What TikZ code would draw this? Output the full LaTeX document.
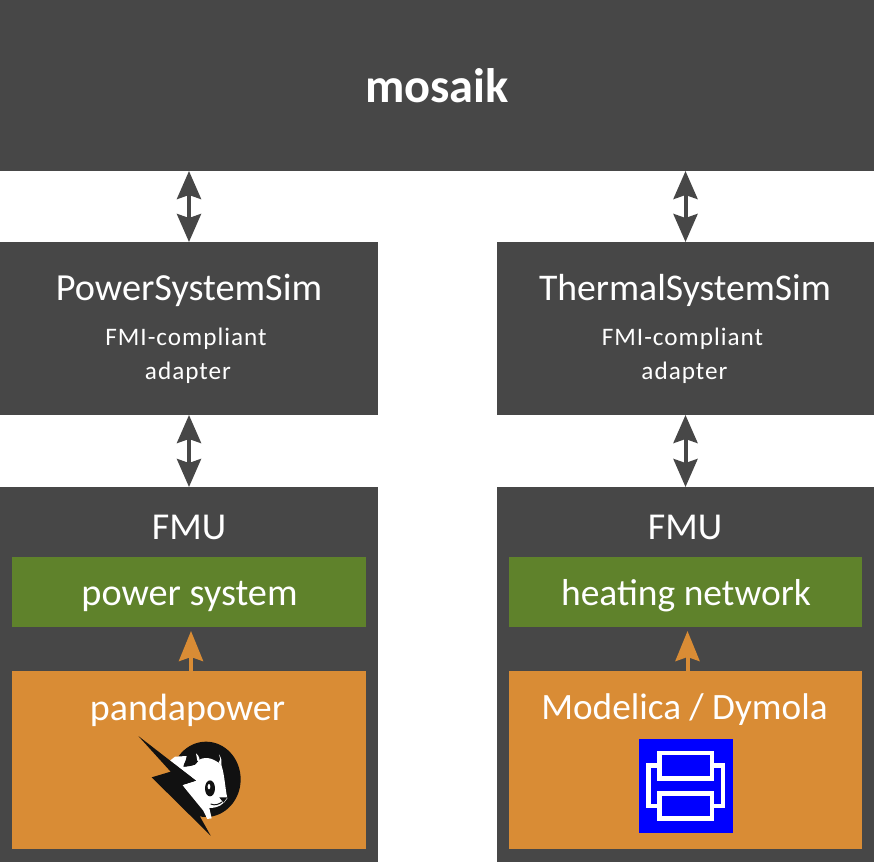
\documentclass[tikz,border=0pt]{standalone}
\usepackage{fontspec}
\setmainfont{Carlito}
\newfontfamily\spaced[LetterSpace=4]{Carlito}
\usetikzlibrary{arrows.meta}
\definecolor{dark}{HTML}{474747}
\definecolor{grn}{HTML}{5F822B}
\definecolor{org}{HTML}{D98C35}
\definecolor{pblack}{HTML}{111111}
\tikzset{
  box/.style={rectangle,inner sep=0pt,outer sep=0pt,fill=#1,text=white},
  box/.default=dark,
  big/.style={text=white,inner sep=0pt,font=\fontsize{38.3}{44}\selectfont},
  mid/.style={text=white,inner sep=0pt,font=\fontsize{38}{44}\selectfont},
  small/.style={text=white,inner sep=0pt,font=\fontsize{25.2}{30}\selectfont\spaced},
  dbl/.style={draw=dark,line width=4pt,{Stealth[length=28pt,width=24pt,inset=4pt]}-{Stealth[length=28pt,width=24pt,inset=4pt]}},
  upa/.style={draw=org,line width=4pt,-{Stealth[length=30pt,width=24pt,inset=4pt]}},
  wline/.style={draw=white,line width=4.5pt,line join=miter}
}
\begin{document}
\begin{tikzpicture}[x=1pt,y=-1pt]
\useasboundingbox (0,0) rectangle (874,862);
\node[box,minimum width=874pt,minimum height=171pt,font=\fontsize{48.4}{54}\selectfont\bfseries] (m) at (437,85.5) {mosaik};
% left column
\node[box,minimum width=378pt,minimum height=173pt] (ps) at (189,328.5) {};
\node[big] (pst) at (189,290) {PowerSystemSim};
\node[small] (psa) at (186,339) {FMI-compliant};
\node[small] (psb) at (188,373) {adapter};
\node[box,minimum width=378pt,minimum height=375pt] (fl) at (189,674.5) {};
\node[mid] (flt) at (189,527) {FMU};
\node[box=grn,minimum width=354pt,minimum height=70pt] (gl) at (189,592) {};
\node[mid,font=\fontsize{38.3}{44}\selectfont] (glt) at (189.5,596) {power system};
\node[box=org,minimum width=354pt,minimum height=178pt] (ol) at (189,760) {};
\node[mid] (olt) at (187.5,710) {pandapower};
% right column
\node[box,minimum width=377pt,minimum height=173pt] (ts) at (685.5,328.5) {};
\node[big,font=\fontsize{37.7}{44}\selectfont] (tst) at (685,290) {ThermalSystemSim};
\node[small] (tsa) at (682.5,339) {FMI-compliant};
\node[small] (tsb) at (684.5,373) {adapter};
\node[box,minimum width=377pt,minimum height=375pt] (fr) at (685.5,674.5) {};
\node[mid] (frt) at (685,527) {FMU};
\node[box=grn,minimum width=353pt,minimum height=70pt] (gr) at (685.5,592) {};
\node[mid,font=\fontsize{37.5}{44}\selectfont] (grt) at (686,596) {heating network};
\node[box=org,minimum width=353pt,minimum height=178pt] (or) at (685.5,760) {};
\node[mid,font=\fontsize{37.2}{44}\selectfont] (ort) at (684.5,710) {Modelica / Dymola};
% connectors
\draw[dbl] (ps.north |- m.south) -- (ps.north);
\draw[dbl] (ts.north |- m.south) -- (ts.north);
\draw[dbl] (ps.south) -- (fl.north);
\draw[dbl] (ts.south) -- (fr.north);
\coordinate (gla) at ([xshift=2pt,yshift=-4pt]gl.south);
\coordinate (gra) at ([xshift=2pt,yshift=-4pt]gr.south);
\draw[upa] (ol.north -| gla) -- (gla);
\draw[upa] (or.north -| gra) -- (gra);
% pandapower logo
\begin{scope}[shift={(120,720)},x=0.3333pt,y=-0.3333pt]
  \fill[pblack] (258,178) ellipse [x radius=104,y radius=113];
  % white head
  \fill[white] (150,122) -- (165,110) -- (200,108) -- (192,140) -- (225,135) -- (240,118)
     .. controls (262,108) and (285,118) .. (304,135)
     .. controls (314,165) and (314,195) .. (322,235)
     .. controls (312,252) and (295,264) .. (268,264)
     -- (275,295) -- (262,297) -- (250,272) -- (187,195) -- (228,182) -- cycle;
  % black ear
  \fill[pblack] (190,140) .. controls (195,115) and (215,104) .. (236,112)
     .. controls (238,125) and (225,140) .. (190,140) -- cycle;
  % ear tips
  \fill[white] (228,100) .. controls (238,108) and (240,118) .. (240,128) -- (232,122) -- cycle;
  \fill[white] (297,103) .. controls (305,115) and (306,125) .. (304,136) -- (296,128) -- (301,118) -- cycle;
  % eye, nose, mouth
  \fill[pblack] (270,205) ellipse [x radius=15,y radius=24];
  \fill[white] (267,200) ellipse [x radius=4,y radius=8];
  \fill[pblack] (298,232) -- (322,232) -- (310,248) -- cycle;
  \draw[pblack,line width=1pt] (272,252) .. controls (285,258) and (298,252) .. (306,246);
  % lightning bolt
  \fill[pblack] (55,48) -- (228,182) -- (187,195) -- (272,347) -- (95,172) -- (152,155) -- cycle;
\end{scope}
% Dymola logo
\node[box=blue,minimum width=94pt,minimum height=94pt] (dy) at (686,786) {};
\draw[wline] (659.7,753) rectangle (712,778.7);
\draw[wline] (659.7,793.7) rectangle (712,818.3);
\draw[wline] (659.7,765.7) -- (648.3,765.7) -- (648.3,806) -- (659.7,806);
\draw[wline] (712,765.7) -- (723,765.7) -- (723,806) -- (712,806);
\end{tikzpicture}
\end{document}
